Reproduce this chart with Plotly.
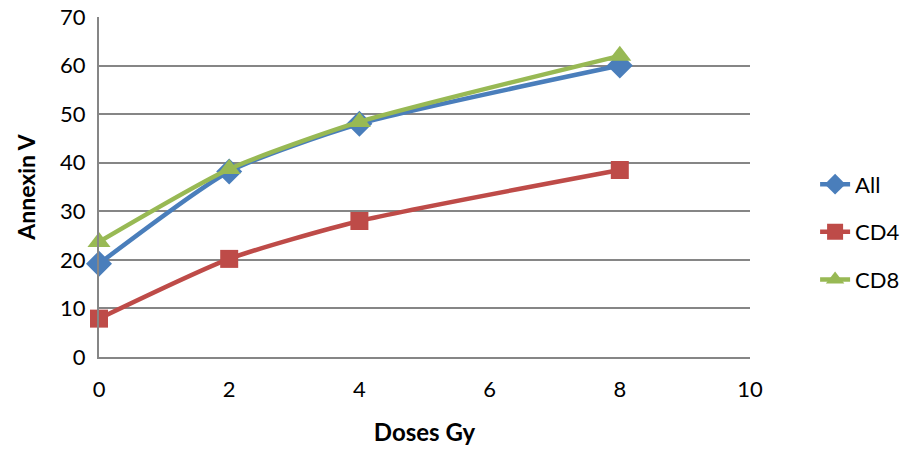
import plotly.graph_objects as go

doses = [0, 2, 4, 8]
all_cells = [19.2, 38.2, 48.0, 60.0]
cd4 = [7.9, 20.2, 28.0, 38.5]
cd8 = [23.7, 38.7, 48.4, 62.0]

series = [
    ("All", all_cells, "#4A7EBB", "diamond", 20),
    ("CD4", cd4, "#BE4B48", "square", 18),
    ("CD8", cd8, "#98B954", "triangle-up", 20),
]

fig = go.Figure()
for name, vals, color, symbol, msize in series:
    fig.add_trace(go.Scatter(
        x=doses, y=vals, name=name, legendgroup=name, mode="lines+markers",
        line=dict(color=color, width=4.5, shape="spline", smoothing=0.6),
        marker=dict(symbol=symbol, size=msize, color=color),
        cliponaxis=False,
    ))

font_family = "Lato, 'Open Sans', sans-serif"

fig.update_layout(
    width=910, height=449,
    margin=dict(l=99, r=160, t=17, b=92, autoexpand=False),
    paper_bgcolor="white", plot_bgcolor="white",
    font=dict(family=font_family, size=22, color="black"),
    showlegend=True,
    legend=dict(
        x=1.1, y=0.368, xanchor="left", yanchor="middle",
        font=dict(size=22), tracegroupgap=16,
        bgcolor="rgba(0,0,0,0)",
    ),
    xaxis=dict(
        range=[0, 10], tickvals=[0, 2, 4, 6, 8, 10],
        showgrid=False, zeroline=False, automargin=False,
        showline=True, linecolor="#868686", linewidth=2,
        ticks="", ticklabelstandoff=12,
        title=dict(text="<b>Doses Gy</b>", font=dict(size=24), standoff=23),
    ),
    yaxis=dict(
        range=[0, 70], tickvals=[0, 10, 20, 30, 40, 50, 60, 70],
        showgrid=True, gridcolor="#868686", gridwidth=2,
        zeroline=False, automargin=False,
        showline=True, linecolor="#868686", linewidth=2,
        ticks="", ticklabelstandoff=7,
        title=dict(text="<b>Annexin V</b>", font=dict(size=23), standoff=18),
    ),
)

fig.write_html("out.html")
